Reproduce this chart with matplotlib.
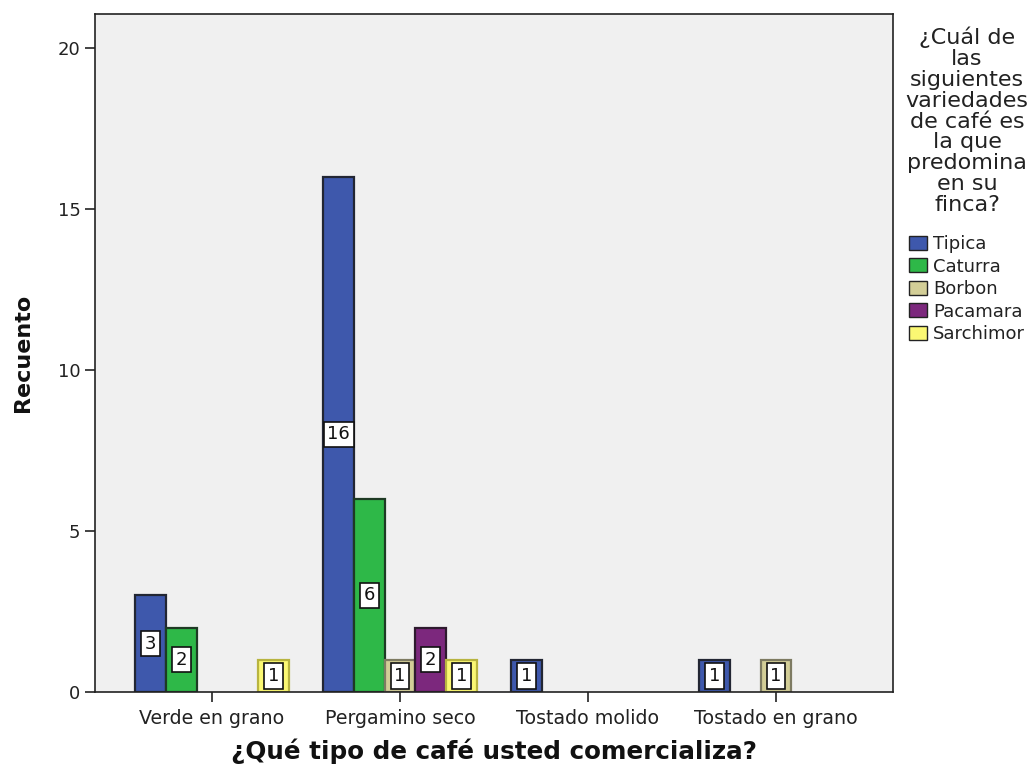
import matplotlib
matplotlib.use("Agg")
import matplotlib.pyplot as plt
import numpy as np
from matplotlib.patches import Patch

plt.rcParams['font.family'] = ['DejaVu Sans']

categories = ["Verde en grano", "Pergamino seco", "Tostado molido", "Tostado en grano"]
varieties = ["Tipica", "Caturra", "Borbon", "Pacamara", "Sarchimor"]
tipica = [3, 16, 1, 1]
caturra = [2, 6, 0, 0]
borbon = [0, 1, 0, 1]
pacamara = [0, 2, 0, 0]
sarchimor = [1, 1, 0, 0]
series = [tipica, caturra, borbon, pacamara, sarchimor]

fills = ["#3E58AC", "#2EB848", "#D3CE97", "#7C287D", "#FBF873"]
edges = ["#222633", "#1E3A24", "#7E7B62", "#2E1A2E", "#B8B440"]

fig = plt.figure(figsize=(10.31, 7.69), dpi=100)
ax = fig.add_axes([95 / 1031, 1 - 692 / 769, 798 / 1031, 678 / 769])
ax.set_facecolor("#F0F0F0")

x = np.arange(len(categories))
width = 0.163
for i, (vals, fc, ec) in enumerate(zip(series, fills, edges)):
    offs = (i - 2) * width
    for xi, v in zip(x, vals):
        if v <= 0:
            continue
        ax.bar(xi + offs, v, width=width, color=fc, edgecolor=ec, linewidth=1.6, zorder=2)
        ax.text(xi + offs, v / 2, str(v), ha="center", va="center", fontsize=13,
                color="#111111", zorder=3,
                bbox=dict(boxstyle="square,pad=0.2", facecolor="white",
                          edgecolor="#111111", linewidth=1.2))

ax.set_xlim(-0.622, 3.622)
ax.set_ylim(0, 21.05)
ax.set_yticks([0, 5, 10, 15, 20])
ax.set_xticks(x)
ax.set_xticklabels(categories)
ax.tick_params(axis="both", direction="out", length=7, width=1.2, colors="#222222",
               labelsize=13, labelcolor="#222222")
ax.tick_params(axis="x", pad=5, labelsize=13.7)
for sp in ax.spines.values():
    sp.set_linewidth(1.2)
    sp.set_color("#222222")

ax.set_xlabel("¿Qué tipo de café usted comercializa?", fontsize=17.7, fontweight="bold",
              labelpad=8, color="#111111")
ax.set_ylabel("Recuento", fontsize=16, fontweight="bold", labelpad=18, color="#111111")

title = "¿Cuál de\nlas\nsiguientes\nvariedades\nde café es\nla que\npredomina\nen su\nfinca?"
fig.text(967 / 1031, 1 - 27 / 769, title, ha="center", va="top", fontsize=16,
         linespacing=1.05, color="#222222")

handles = [Patch(facecolor=fc, edgecolor="#222222", linewidth=1.0, label=lab)
           for fc, lab in zip(fills, varieties)]
leg = fig.legend(handles=handles, loc="upper left", bbox_to_anchor=(909 / 1031, 1 - 235 / 769),
                 frameon=False, fontsize=13, handlelength=1.0, handleheight=0.8,
                 handletextpad=0.35, labelspacing=0.25, borderpad=0.0, borderaxespad=0)
for t in leg.get_texts():
    t.set_color("#222222")

fig.savefig("out.png", dpi=100, facecolor="white")
